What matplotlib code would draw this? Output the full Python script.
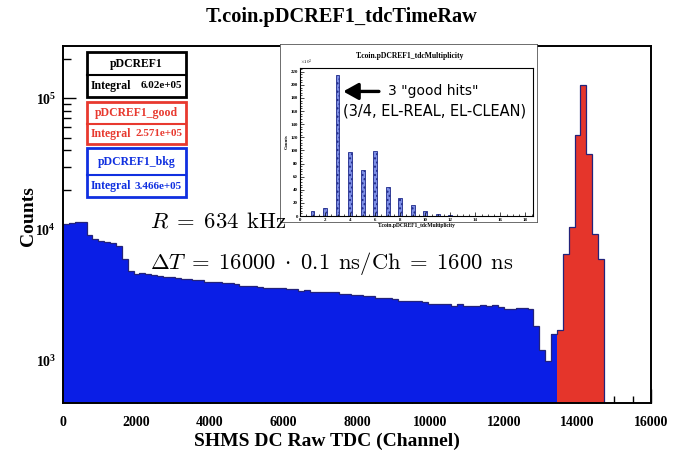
import numpy as np
import matplotlib
matplotlib.use("Agg")
import matplotlib.pyplot as plt
from matplotlib.patches import Rectangle
from matplotlib.ticker import MultipleLocator, LogLocator, NullFormatter, FixedLocator

plt.rcParams['mathtext.fontset'] = 'cm'

# ---------------- data ----------------
bin_width = 160
blue_counts = [10900, 11100, 11300, 11400, 9000, 8340, 8100, 8000, 7850, 7400,
               5900, 4780, 4560, 4600, 4550, 4480, 4400, 4320, 4300, 4250,
               4150, 4130, 4100, 4050, 3960, 3960, 3930, 3900, 3850, 3800,
               3700, 3680, 3670, 3620, 3560, 3540, 3560, 3540, 3500, 3470,
               3360, 3450, 3320, 3300, 3310, 3300, 3290, 3210, 3200, 3120,
               3115, 3110, 3100, 3000, 2990, 2970, 2900, 2840, 2820, 2830,
               2810, 2760, 2700, 2690, 2700, 2680, 2600, 2690, 2590, 2580,
               2570, 2620, 2600, 2610, 2560, 2440, 2450, 2500, 2480, 2470,
               1820, 1185, 980, 1570]
red_counts = [1690, 6410, 10350, 51900, 127000, 37200, 9100, 5900]
tail_counts = [0, 0, 0, 0, 0, 0, 0, 0]

mult_values = [1, 2, 3, 4, 5, 6, 7, 8, 9, 10, 11, 12]
mult_counts_k = [7.2, 12.2, 215, 97, 70.7, 99, 44.8, 27.5, 16.8, 7.2, 3.0, 1.0]

legend_names = ["pDCREF1", "pDCREF1_good", "pDCREF1_bkg"]
legend_integrals = ["6.02e+05", "2.571e+05", "3.466e+05"]

x_ticks = [0, 2000, 4000, 6000, 8000, 10000, 12000, 14000, 16000]
inset_xticks = [0, 2, 4, 6, 8, 10, 12, 14, 16, 18]
inset_yticks = [0, 20, 40, 60, 80, 100, 120, 140, 160, 180, 200, 220]

# ---------------- figure ----------------
W, H = 683, 457
fig = plt.figure(figsize=(W / 100, H / 100), dpi=100)
fig.patch.set_facecolor('white')

def fx(x):
    return x / W

def fy(y):
    return 1 - y / H

serif = ['Liberation Serif', 'DejaVu Serif']
BLUE = '#0a1ee6'
RED = '#e5352b'
NAVY = '#23237a'

# main axes
ax = fig.add_axes([fx(63), fy(403), fx(651) - fx(63), fy(46) - fy(403)])
n_b = len(blue_counts)
n_r = len(red_counts)
edges_b = np.arange(n_b + 1) * bin_width
edges_r = edges_b[-1] + np.arange(n_r + 1) * bin_width

ax.stairs(blue_counts, edges_b, fill=True, color=BLUE, baseline=1e-2, zorder=2)
ax.stairs(red_counts, edges_r, fill=True, color=RED, baseline=1e-2, zorder=2)
all_counts = np.array(blue_counts + red_counts + tail_counts, dtype=float)
all_edges = np.arange(len(all_counts) + 1) * bin_width
ax.stairs(np.clip(all_counts, 1, None), all_edges, color=NAVY, lw=0.9,
          baseline=None, zorder=3)

ax.set_yscale('log')
ax.set_xlim(0, 16000)
ax.set_ylim(470, 2.5e5)

ax.xaxis.set_major_locator(FixedLocator(x_ticks))
ax.xaxis.set_minor_locator(MultipleLocator(500))
ax.yaxis.set_major_locator(LogLocator(base=10, numticks=10))
ax.yaxis.set_minor_locator(LogLocator(base=10, subs=np.arange(2, 10), numticks=20))
ax.yaxis.set_minor_formatter(NullFormatter())

ax.tick_params(axis='both', which='both', direction='in', top=False, right=False)
ax.tick_params(axis='x', which='major', length=10, width=1, pad=9)
ax.tick_params(axis='x', which='minor', length=5, width=1)
ax.tick_params(axis='y', which='major', length=9, width=1, pad=5)
ax.tick_params(axis='y', which='minor', length=6, width=1)
for lab in ax.get_xticklabels() + ax.get_yticklabels():
    lab.set_fontfamily(serif)
    lab.set_fontweight('bold')
    lab.set_fontsize(10)
for sp in ax.spines.values():
    sp.set_linewidth(1.4)
    sp.set_zorder(5)

ax.set_xlabel('SHMS DC Raw TDC (Channel)', fontfamily=serif, fontweight='bold',
              fontsize=14)
ax.xaxis.set_label_coords((326.5 - 63) / (651 - 63), -(441 - 403) / (403 - 46))
ax.xaxis.label.set_va('center')
ax.set_ylabel('Counts', fontfamily=serif, fontweight='bold', fontsize=14)
ax.yaxis.set_label_coords(-(63 - 28) / (651 - 63), (403 - 216) / (403 - 46))
ax.yaxis.label.set_va('center')

fig.text(0.5, fy(17), 'T.coin.pDCREF1_tdcTimeRaw', ha='center', va='center',
         fontfamily=serif, fontweight='bold', fontsize=14.7)

# formulas
fig.text(fx(150), fy(228), r'$R\;=\;634\;\,\mathrm{kHz}$', fontsize=16.3, ha='left',
         va='baseline', zorder=50)
fig.text(fx(150), fy(269),
         r'$\Delta T\;=\;16000\;\cdot\;0.1\;\,\mathrm{ns/Ch}\;=\;1600\;\,\mathrm{ns}$',
         fontsize=16.3, ha='left', va='baseline', zorder=50)

# legend boxes
box_specs = [
    ('black', 52, 75, 97),
    ('#e8392f', 102, 124, 144),
    ('#1030e0', 148, 175, 197),
]
for (col, ytop, ymid, ybot), name, integ in zip(box_specs, legend_names, legend_integrals):
    rect = Rectangle((fx(87), fy(ybot)), fx(186) - fx(87), fy(ytop) - fy(ybot),
                     transform=fig.transFigure, facecolor='white', edgecolor=col,
                     lw=2, zorder=20)
    fig.add_artist(rect)
    fig.add_artist(plt.Line2D([fx(87), fx(186)], [fy(ymid), fy(ymid)],
                              transform=fig.transFigure, color=col, lw=1.5, zorder=21))
    fig.text(fx(136.5), fy((ytop + ymid) / 2), name, ha='center', va='center',
             color=col, fontfamily=serif, fontweight='bold', fontsize=8.5, zorder=22)
    fig.text(fx(91), fy((ymid + ybot) / 2), 'Integral', ha='left', va='center',
             color=col, fontfamily=serif, fontweight='bold', fontsize=8.5, zorder=22)
    fig.text(fx(182), fy((ymid + ybot) / 2), integ, ha='right', va='center',
             color=col, fontfamily=serif, fontweight='bold', fontsize=8, zorder=22)

# inset pad
pad = fig.add_axes([fx(280), fy(222), fx(537) - fx(280), fy(44) - fy(222)])
pad.set_xticks([])
pad.set_yticks([])
pad.set_facecolor('white')
for sp in pad.spines.values():
    sp.set_linewidth(0.6)
    sp.set_color('#555555')
pad.set_zorder(30)

ins = fig.add_axes([fx(300), fy(216), fx(533) - fx(300), fy(68) - fy(216)])
ins.set_zorder(31)
ins.bar(np.array(mult_values), mult_counts_k, width=0.3, color='#7d8ee6',
        edgecolor='#1f2a8a', lw=0.6, hatch='....')
ins.set_xlim(0, 18.6)
ins.set_ylim(0, max(mult_counts_k) * 1.05)
ins.xaxis.set_major_locator(FixedLocator(inset_xticks))
ins.xaxis.set_minor_locator(MultipleLocator(0.5))
ins.yaxis.set_major_locator(FixedLocator(inset_yticks))
ins.yaxis.set_minor_locator(MultipleLocator(4))
ins.tick_params(axis='both', which='both', direction='in', top=False, right=False,
                labelsize=3.5, pad=1.5)
ins.tick_params(which='major', length=3, width=0.5)
ins.tick_params(which='minor', length=1.5, width=0.5)
for lab in ins.get_xticklabels() + ins.get_yticklabels():
    lab.set_fontfamily(serif)
    lab.set_fontweight('bold')
for sp in ins.spines.values():
    sp.set_linewidth(0.8)
ins.set_xlabel('T.coin.pDCREF1_tdcMultiplicity', fontfamily=serif, fontweight='bold',
               fontsize=4, labelpad=0.5)
ins.set_ylabel('Counts', fontfamily=serif, fontweight='bold', fontsize=3.5, labelpad=1)
ins.text(0.0, 1.005, r'$\times10^3$', transform=ins.transAxes, fontsize=3.5,
         ha='left', va='bottom')
fig.text(fx(410), fy(56), 'T.coin.pDCREF1_tdcMultiplicity', ha='center', va='center',
         fontfamily=serif, fontweight='bold', fontsize=5.5, zorder=40)

# handwritten-style annotation
ins.annotate('', xy=(3.45, 190), xytext=(6.3, 190),
             arrowprops=dict(arrowstyle='-|>,head_width=0.5,head_length=0.9',
                             color='black', lw=2.4, shrinkA=0, shrinkB=0))
ins.text(7.0, 190, '3 "good hits"', fontsize=10, fontfamily='DejaVu Sans',
         ha='left', va='center')
ins.text(3.4, 160, '(3/4, EL-REAL, EL-CLEAN)', fontsize=10.5, fontfamily='DejaVu Sans',
         ha='left', va='center')

fig.savefig('out.png', dpi=100)
